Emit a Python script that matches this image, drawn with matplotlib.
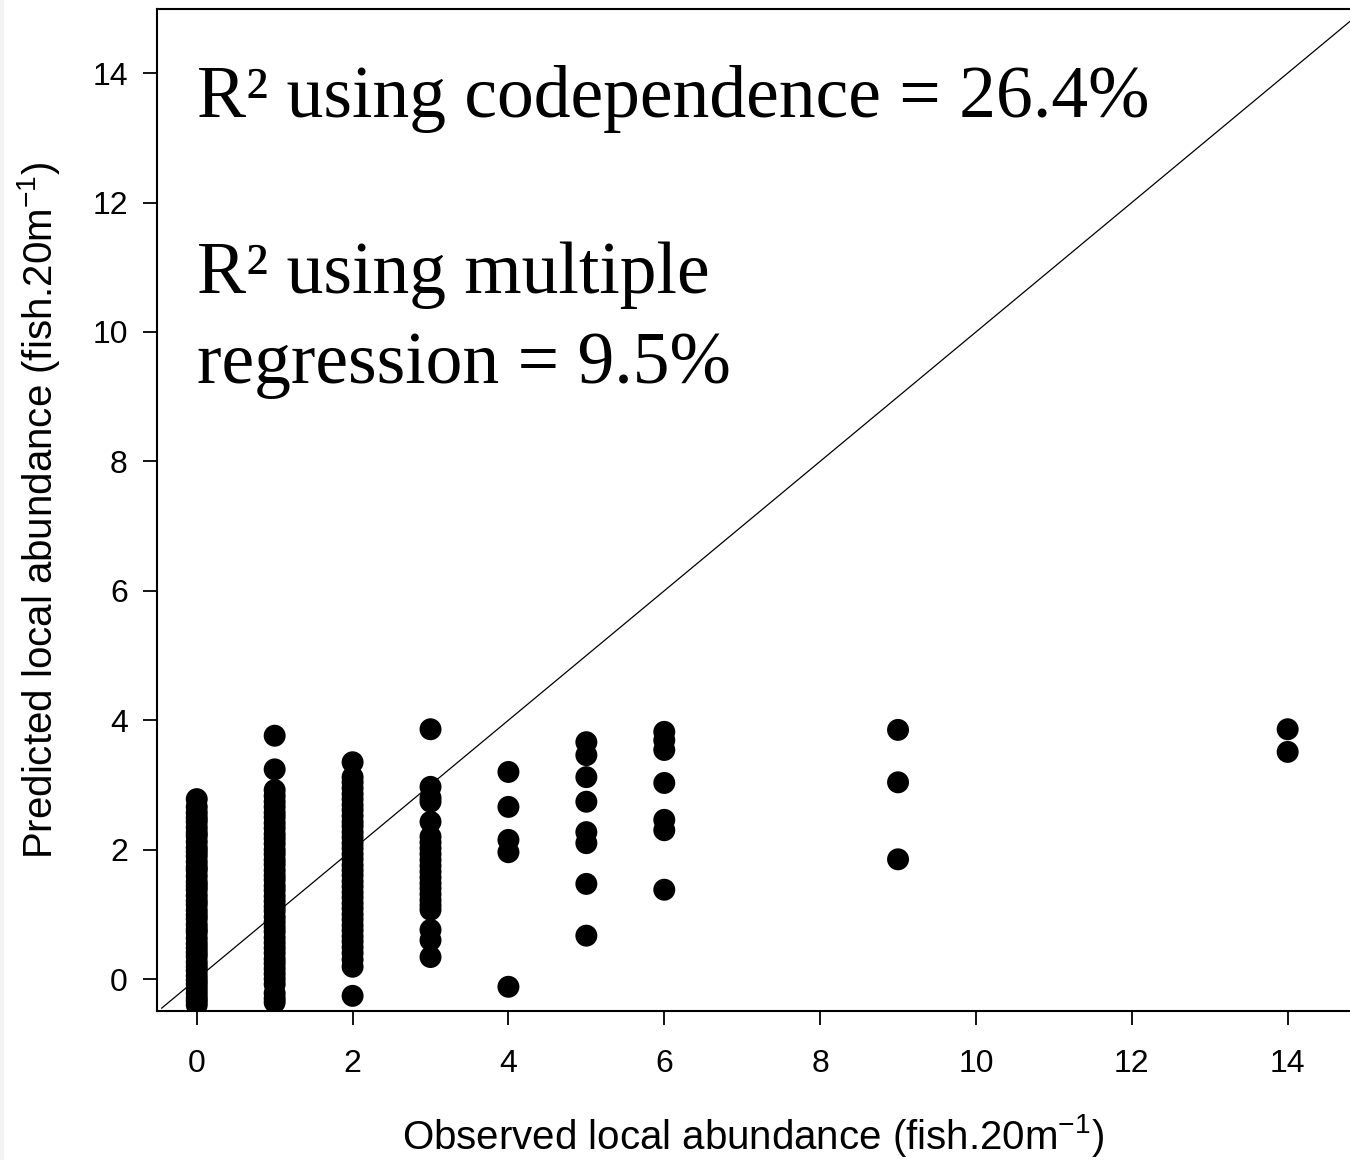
import matplotlib
matplotlib.use("Agg")
import matplotlib.pyplot as plt
from matplotlib.patches import Rectangle

# Observed abundance classes and predicted values for each observation
obs_0 = [2.78, 2.66, 2.57, 2.49, 2.43, 2.34, 2.26, 2.21, 2.12, 2.03, 1.97, 1.90,
         1.81, 1.73, 1.68, 1.59, 1.50, 1.44, 1.38, 1.29, 1.21, 1.15, 1.06, 0.99,
         0.93, 0.84, 0.77, 0.72, 0.63, 0.55, 0.48, 0.41, 0.35, 0.26, 0.19, 0.13,
         0.05, -0.02, -0.08, -0.15, -0.22, -0.29, -0.34, -0.40]
obs_1 = [3.76, 3.24, 2.92, 2.83, 2.74, 2.66, 2.57, 2.50, 2.41, 2.33, 2.24, 2.17,
         2.09, 2.00, 1.93, 1.84, 1.77, 1.68, 1.60, 1.53, 1.44, 1.37, 1.28, 1.20,
         1.12, 1.05, 0.96, 0.88, 0.80, 0.73, 0.64, 0.56, 0.48, 0.40, 0.31, 0.24,
         0.16, 0.08, 0.00, -0.08, -0.22, -0.30, -0.36]
obs_2 = [3.35, 3.12, 3.04, 2.95, 2.86, 2.78, 2.69, 2.61, 2.52, 2.43, 2.36, 2.27,
         2.19, 2.10, 2.02, 1.93, 1.85, 1.76, 1.68, 1.60, 1.51, 1.43, 1.34, 1.26,
         1.17, 1.09, 1.00, 0.92, 0.83, 0.75, 0.66, 0.58, 0.49, 0.40, 0.30, 0.19,
         -0.26]
obs_3 = [3.86, 2.97, 2.80, 2.74, 2.43, 2.20, 2.11, 2.02, 1.93, 1.84, 1.75, 1.66,
         1.57, 1.48, 1.40, 1.31, 1.22, 1.14, 1.07, 0.76, 0.60, 0.34]
obs_4 = [3.20, 2.66, 2.15, 1.96, -0.12]
obs_5 = [3.66, 3.46, 3.12, 2.74, 2.27, 2.10, 1.47, 0.67]
obs_6 = [3.82, 3.69, 3.54, 3.03, 2.46, 2.30, 1.38]
obs_9 = [3.85, 3.04, 1.85]
obs_14 = [3.86, 3.51]

observed_classes = [0, 1, 2, 3, 4, 5, 6, 9, 14]
predicted_groups = [obs_0, obs_1, obs_2, obs_3, obs_4, obs_5, obs_6, obs_9, obs_14]

tick_values = [0, 2, 4, 6, 8, 10, 12, 14]

x_label = "Observed local abundance (fish.20m$^{-1}$)"
y_label = "Predicted local abundance (fish.20m$^{-1}$)"
note_1 = "R\u00b2 using codependence = 26.4%"
note_2a = "R\u00b2 using multiple"
note_2b = "regression = 9.5%"

plt.rcParams["font.family"] = ["Liberation Sans", "DejaVu Sans"]
plt.rcParams["mathtext.default"] = "regular"

fig = plt.figure(figsize=(13.5, 11.6), dpi=100)
fig.patches.append(Rectangle((0, 0), 0.003, 1, transform=fig.transFigure,
                             facecolor="#f2f2f2", edgecolor="none", zorder=0))
ax = fig.add_axes([0.1163, 0.1284, 0.8837, 0.8638])

xs, ys = [], []
for cls, vals in zip(observed_classes, predicted_groups):
    xs.extend([cls] * len(vals))
    ys.extend(vals)
ax.scatter(xs, ys, s=250, color="black", edgecolors="none", zorder=3)

# 1:1 reference line
ax.plot([-0.45, 15], [-0.45, 15], color="black", lw=0.9, zorder=2)

ax.set_xlim(-0.51, 14.80)
ax.set_ylim(-0.495, 14.99)
ax.set_xticks(tick_values)
ax.set_yticks(tick_values)

for side in ("left", "bottom", "top"):
    ax.spines[side].set_linewidth(1.5)
ax.spines["right"].set_visible(False)

ax.tick_params(axis="both", direction="out", length=10, width=1.3,
               labelsize=23)
ax.tick_params(axis="x", pad=17)
ax.tick_params(axis="y", pad=11)

ax.set_xlabel(x_label, fontsize=29, labelpad=24)
ax.set_ylabel(y_label, fontsize=29, labelpad=22)

serif = ["Liberation Serif", "DejaVu Serif"]
ax.text(0, 13.32, note_1, family=serif, fontsize=53, va="baseline", ha="left")
ax.text(0, 10.60, note_2a, family=serif, fontsize=53, va="baseline", ha="left")
ax.text(0, 9.21, note_2b, family=serif, fontsize=53, va="baseline", ha="left")

fig.savefig("out.png", dpi=100)
